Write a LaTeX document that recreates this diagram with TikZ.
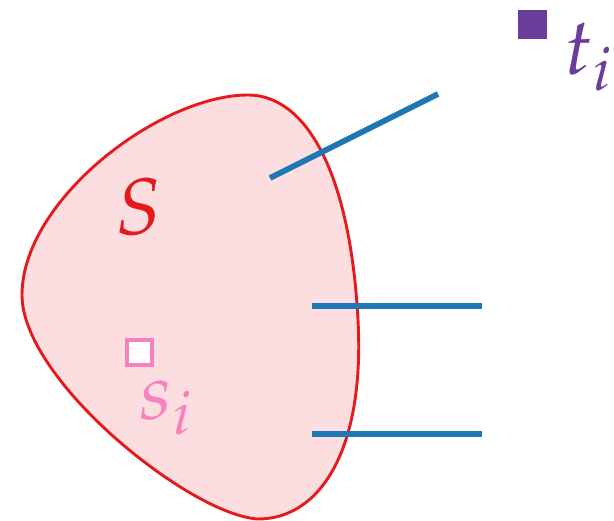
\documentclass[tikz,border=0pt]{standalone}
\usepackage{mathpazo}
\definecolor{bred}{RGB}{228,26,28}
\definecolor{bfill}{RGB}{252,222,224}
\definecolor{bblue}{RGB}{31,120,180}
\definecolor{bpurple}{RGB}{106,61,154}
\definecolor{bpink}{RGB}{247,129,191}
\tikzset{
  edgeline/.style={draw=bblue,line width=5.8pt},
  lbl/.style={inner sep=0pt,font=\fontsize{80}{90}\selectfont},
}
\begin{document}
\begin{tikzpicture}[x=1pt,y=-1pt]
\useasboundingbox (0,0) rectangle (614,521);
\draw[bred,fill=bfill,line width=2.9pt] (248,95) .. controls (305,95) and (350,170) .. (358,320)
  .. controls (365,450) and (320,519) .. (258,519)
  .. controls (190,515) and (22,380) .. (22,295)
  .. controls (22,200) and (160,95) .. (248,95) -- cycle;
\coordinate (a1) at (270,178); \coordinate (a2) at (438,94);
\coordinate (b1) at (312,306); \coordinate (b2) at (482,306);
\coordinate (c1) at (312,434); \coordinate (c2) at (482,434);
\draw[edgeline] (a1) -- (a2);
\draw[edgeline] (b1) -- (b2);
\draw[edgeline] (c1) -- (c2);
\node[lbl,text=bred] (S) at (139,207) {$S$};
\node[draw=bpink,fill=white,line width=4pt,minimum size=25pt,inner sep=0pt] (sq) at (139.5,353) {};
\node[lbl,text=bpink] (si) at (166,408) {$s_i$};
\node[fill=bpurple,minimum size=29pt,inner sep=0pt] (tq) at (532,25) {};
\node[lbl,text=bpurple] (ti) at (588,57) {$t_i$};
\end{tikzpicture}
\end{document}
